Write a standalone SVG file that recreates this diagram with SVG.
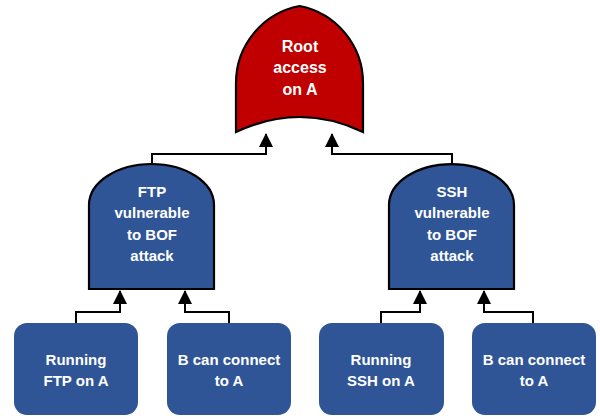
<svg xmlns="http://www.w3.org/2000/svg" width="600" height="420" viewBox="0 0 600 420">
  <style>
    .box { fill: #2F5597; }
    .gate { fill: #2F5597; stroke: #000; stroke-width: 2.2; }
    .root { fill: #C00000; stroke: #000; stroke-width: 2.2; }
    .lbl { font-family: "Liberation Sans", Arial, sans-serif; font-weight: bold; font-size: 15px; fill: #fff; text-anchor: middle; }
    .big { font-size: 16px; }
    .edge { fill: none; stroke: #000; stroke-width: 2; marker-end: url(#arrow); }
  </style>
  <defs>
    <marker id="arrow" markerUnits="userSpaceOnUse" markerWidth="14" markerHeight="14" viewBox="0 0 14 14" refX="13" refY="7" orient="auto">
      <path d="M0,0 L14,7 L0,14 Z" fill="#000"/>
    </marker>
  </defs>
  <rect width="600" height="420" fill="#fff"/>

  <!-- connectors -->
  <g id="connectors">
    <path class="edge" d="M76,323 V312 H120 V291"/>
    <path class="edge" d="M229,323 V312 H185 V291"/>
    <path class="edge" d="M381,323 V312 H420 V291"/>
    <path class="edge" d="M533,323 V312 H484 V291"/>
    <path class="edge" d="M152,164 V154 H266 V134"/>
    <path class="edge" d="M452,164 V154 H332 V134"/>
  </g>

  <!-- OR gate: root goal (pointed arch top, concave base) -->
  <g id="root">
    <path class="root" d="M236,132 L236,83 A78.4,78.4 0 0 1 299.5,6 A78.4,78.4 0 0 1 363,83 L363,132 Q300,102 236,132 Z"/>
    <text class="lbl big" x="300" y="52">Root</text>
    <text class="lbl big" x="300" y="73">access</text>
    <text class="lbl big" x="300" y="95">on A</text>
  </g>

  <!-- AND gates -->
  <g id="ftp-vuln">
    <path class="gate" d="M89,289 L89,205 A62.5,41 0 0 1 214,205 L214,289 Z"/>
    <text class="lbl" x="152" y="197">FTP</text>
    <text class="lbl" x="152" y="218">vulnerable</text>
    <text class="lbl" x="152" y="240">to BOF</text>
    <text class="lbl" x="152" y="261">attack</text>
  </g>
  <g id="ssh-vuln">
    <path class="gate" d="M389,289 L389,205 A62.5,41 0 0 1 514,205 L514,289 Z"/>
    <text class="lbl" x="452" y="197">SSH</text>
    <text class="lbl" x="452" y="218">vulnerable</text>
    <text class="lbl" x="452" y="240">to BOF</text>
    <text class="lbl" x="452" y="261">attack</text>
  </g>

  <!-- leaf conditions -->
  <g id="running-ftp">
    <rect class="box" x="14" y="323" width="124" height="92" rx="13"/>
    <text class="lbl" x="76" y="365">Running</text>
    <text class="lbl" x="76" y="386">FTP on A</text>
  </g>
  <g id="connect-ftp">
    <rect class="box" x="167" y="323" width="124" height="92" rx="13"/>
    <text class="lbl" x="229" y="365">B can connect</text>
    <text class="lbl" x="229" y="386">to A</text>
  </g>
  <g id="running-ssh">
    <rect class="box" x="319" y="323" width="125" height="92" rx="13"/>
    <text class="lbl" x="381" y="365">Running</text>
    <text class="lbl" x="381" y="386">SSH on A</text>
  </g>
  <g id="connect-ssh">
    <rect class="box" x="472" y="323" width="124" height="92" rx="13"/>
    <text class="lbl" x="534" y="365">B can connect</text>
    <text class="lbl" x="534" y="386">to A</text>
  </g>
</svg>
